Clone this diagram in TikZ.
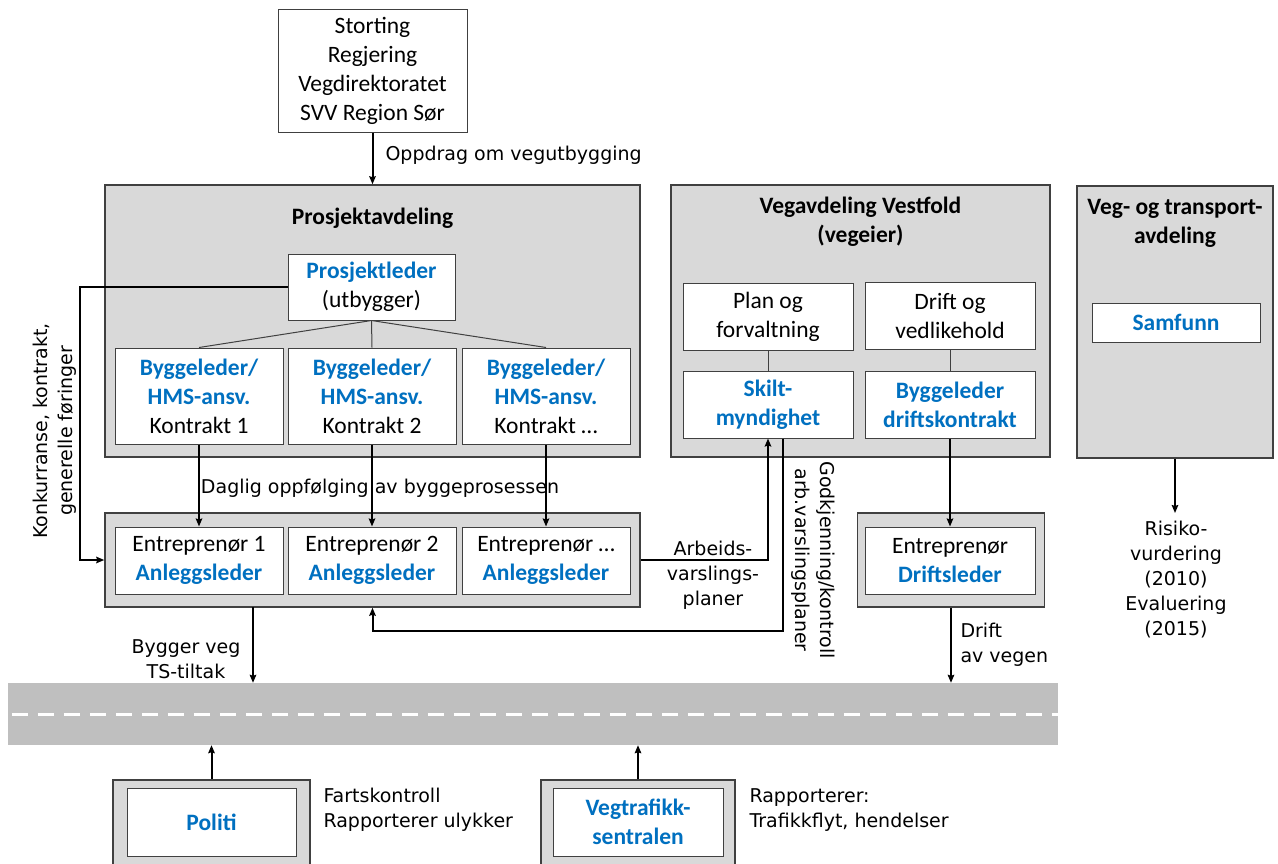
\documentclass[tikz,border=0pt]{standalone}
\usepackage{fontspec}
\setmainfont{Carlito}
\newfontfamily\handfont{DejaVu Sans}
\usetikzlibrary{arrows.meta}
\definecolor{svvblue}{HTML}{0070C0}
\definecolor{avdgray}{HTML}{D9D9D9}
\definecolor{veggray}{HTML}{BFBFBF}
\definecolor{kant}{HTML}{404040}
\newcommand{\rolle}[1]{\textcolor{svvblue}{\bfseries #1}}
\tikzset{%
  avd/.style={draw=kant,line width=1.5pt,fill=avdgray,inner sep=0pt},
  boks/.style={draw=kant,line width=1pt,fill=white,align=center,inner sep=0pt,
    font=\fontsize{23.5}{29}\selectfont},
  tittel/.style={align=center,font=\fontsize{23.5}{29}\selectfont\bfseries},
  merk/.style={align=center,font=\handfont\fontsize{19}{25}\selectfont},
  pil/.style={line width=2pt,-{Stealth[length=8pt,width=6.5pt,inset=1pt]}},
  strek/.style={draw=kant,line width=1pt}
}

\begin{document}
\begin{tikzpicture}[x=1pt,y=-1pt]
    \useasboundingbox (0,0) rectangle (1278,863);
    \clip (0,0) rectangle (1278,863);
    %
    \node[boks,minimum width=189,minimum height=123] (stort) at (372.5,70.5)
      {Storting\\Regjering\\Vegdirektoratet\\SVV Region Sør};
    \node[avd,minimum width=535,minimum height=272] (pavd) at (372.5,321) {};
    \draw[pil] (stort.south) -- (pavd.north);
    \node[merk,anchor=west] (oppdr) at (382,155) {Oppdrag om vegutbygging};
    \node[tittel] (ptit) at (372.5,218) {Prosjektavdeling};
    \node[boks,minimum width=167,minimum height=66] (pl) at (371.5,287)
      {\rolle{Prosjektleder}\\(utbygger)};
    %
    \node[avd,minimum width=535,minimum height=94] (epavd) at (372.5,560) {};
    \foreach \i/\x/\k in {1/199/1,2/372/2,3/546/…}{
      \node[boks,minimum width=168,minimum height=96] (bl\i) at (\x,396)
        {\rolle{Byggeleder/}\\\rolle{HMS-ansv.}\\Kontrakt \k};
      \draw[strek] (pl.south) -- (bl\i.north);
      \node[boks,minimum width=168,minimum height=67] (ep\i) at (\x,560.5)
        {Entreprenør \k\\\rolle{Anleggsleder}};
      \draw[pil] (bl\i.south) -- (ep\i.north);
    }
    \node[merk] (daglig) at (380,488) {Daglig oppfølging av byggeprosessen};
    \draw[pil] (pl.west) -- ++(-208,0) |- (epavd.west);
    \node[merk,rotate=90] (konk) at (55,431)
      {Konkurranse, kontrakt,\\generelle føringer};
    %
    \node[avd,minimum width=379,minimum height=272] (vavd) at (860.5,321) {};
    \node[tittel] (vtit) at (860.5,221.5) {Vegavdeling Vestfold\\(vegeier)};
    \node[boks,minimum width=170,minimum height=67] (plan) at (768,317)
      {Plan og\\forvaltning};
    \node[boks,minimum width=170,minimum height=67] (drift) at (950,316)
      {Drift og\\vedlikehold};
    \node[boks,minimum width=170,minimum height=67] (skilt) at (768,404.5)
      {\rolle{Skilt-}\\\rolle{myndighet}};
    \node[boks,minimum width=170,minimum height=67] (bdk) at (950,404.5)
      {\rolle{Byggeleder}\\\rolle{driftskontrakt}};
    \draw[strek] (plan) -- (skilt);
    \draw[strek] (drift) -- (bdk);
    %
    \node[avd,minimum width=196,minimum height=272] (vtavd) at (1175,322) {};
    \node[tittel] (vttit) at (1175,223) {Veg- og transport-\\avdeling};
    \node[boks,minimum width=168,minimum height=39] (samf) at (1176,322.5)
      {\rolle{Samfunn}};
    \coordinate (risk) at (1175,513);
    \draw[pil] (vtavd.south) -- (risk);
    \node[merk,anchor=north] (risktxt) at (1176,518)
      {Risiko-\\vurdering\\(2010)\\Evaluering\\(2015)};
    %
    \node[avd,minimum width=187,minimum height=94] (dlavd) at (951,560) {};
    \node[boks,minimum width=170,minimum height=67] (dl) at (950,560.5)
      {Entreprenør\\\rolle{Driftsleder}};
    \draw[pil] (bdk.south) -- (dl.north);
    %
    \draw[pil] (epavd.east) -| (skilt.south);
    \node[merk] (arb) at (713,575) {Arbeids-\\varslings-\\planer};
    \coordinate (gk) at (783,631);
    \draw[pil] (skilt.south -| gk) -- (gk) -| (epavd.south);
    \node[merk,rotate=-90] (godk) at (813,560)
      {Godkjenning/kontroll\\arb.varslingsplaner};
    %
    \node[fill=veggray,minimum width=1050,minimum height=62,inner sep=0pt]
      (veg) at (533,714) {};
    \draw[white,line width=3pt,dash pattern=on 16pt off 10pt]
      (veg.west) ++(4,0) -- (veg.east);
    \coordinate (byg) at (253,607);
    \draw[pil] (byg) -- (byg |- veg.north);
    \node[merk] (bygtxt) at (186,659) {Bygger veg\\TS-tiltak};
    \draw[pil] (dlavd.south) -- (dlavd.south |- veg.north);
    \node[merk,anchor=west,align=left] (drtxt) at (957,645) {Drift\\av vegen};
    %
    \node[avd,minimum width=197,minimum height=100,anchor=north] (polavd)
      at (211.5,779) {};
    \node[boks,minimum width=169,minimum height=68] (pol) at (211.5,822)
      {\rolle{Politi}};
    \draw[pil] (polavd.north) -- (polavd.north |- veg.south);
    \node[merk,anchor=west,align=left] (poltxt) at (320,810)
      {Fartskontroll\\Rapporterer ulykker};
    \node[avd,minimum width=194,minimum height=100,anchor=north] (vtsavd)
      at (638,779) {};
    \node[boks,minimum width=170,minimum height=68] (vts) at (638,822)
      {\rolle{Vegtrafikk-}\\\rolle{sentralen}};
    \draw[pil] (vtsavd.north) -- (vtsavd.north |- veg.south);
    \node[merk,anchor=west,align=left] (vtstxt) at (746,810)
      {Rapporterer:\\Trafikkflyt, hendelser};
  \end{tikzpicture}
\end{document}
